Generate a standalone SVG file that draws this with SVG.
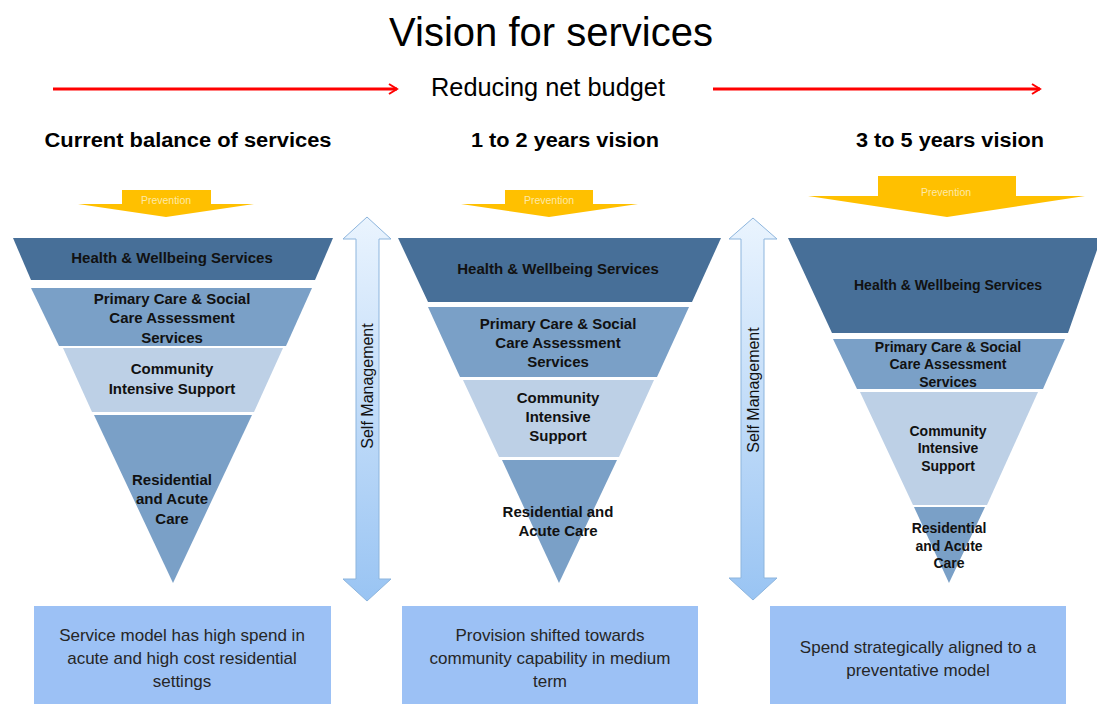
<svg xmlns="http://www.w3.org/2000/svg" width="1097" height="704" viewBox="0 0 1097 704">
  <defs>
    <linearGradient id="selfGrad" x1="0" y1="0" x2="0" y2="1">
      <stop offset="0" stop-color="#eaf4fe"/>
      <stop offset="1" stop-color="#99c4f3"/>
    </linearGradient>
    <marker id="redHead" markerWidth="12" markerHeight="12" refX="10" refY="6" orient="auto" markerUnits="userSpaceOnUse">
      <polyline points="2,1 10,6 2,11" fill="none" stroke="#ff0000" stroke-width="2"/>
    </marker>
  </defs>
  <style>
    .title { font-family: "Liberation Sans", Arial, sans-serif; font-size: 40px; fill: #000; text-anchor: middle; }
    .budget { font-family: "Liberation Sans", Arial, sans-serif; font-size: 25px; fill: #000; text-anchor: middle; }
    .head { font-family: "Liberation Sans", Arial, sans-serif; font-size: 20px; font-weight: bold; fill: #000; text-anchor: middle; }
    .prev { fill: #ffc000; }
    .prevTxt { font-family: "Liberation Sans", Arial, sans-serif; font-size: 10.5px; fill: #fde9a8; text-anchor: middle; }
    .b1 { fill: #476f98; }
    .b2 { fill: #7aa0c7; }
    .b3 { fill: #bdd0e6; }
    .lbl { font-family: "Liberation Sans", Arial, sans-serif; font-size: 15px; font-weight: bold; fill: #111; text-anchor: middle; }
    .lbl3 { font-family: "Liberation Sans", Arial, sans-serif; font-size: 14px; font-weight: bold; fill: #111; text-anchor: middle; }
    .self { fill: url(#selfGrad); stroke: #8db5dd; stroke-width: 1; }
    .selfTxt { font-family: "Liberation Sans", Arial, sans-serif; font-size: 16px; fill: #111; text-anchor: middle; }
    .box { fill: #9cc1f5; }
    .boxTxt { font-family: "Liberation Sans", Arial, sans-serif; font-size: 17px; fill: #262626; text-anchor: middle; }
    .red { stroke: #ff0000; stroke-width: 3; fill: none; }
  </style>

  <rect width="1097" height="704" fill="#ffffff"/>

  <g id="title">
    <text class="title" x="551" y="46">Vision for services</text>
  </g>

  <g id="budget-label">
    <text class="budget" x="548" y="96" textLength="234" lengthAdjust="spacingAndGlyphs">Reducing net budget</text>
  </g>

  <g id="connectors">
    <line class="red" x1="53" y1="89" x2="397" y2="89" marker-end="url(#redHead)"/>
    <line class="red" x1="713" y1="89" x2="1040" y2="89" marker-end="url(#redHead)"/>
  </g>

  <g id="headings">
    <text class="head" x="188" y="147" textLength="287" lengthAdjust="spacingAndGlyphs">Current balance of services</text>
    <text class="head" x="565" y="147" textLength="188" lengthAdjust="spacingAndGlyphs">1 to 2 years vision</text>
    <text class="head" x="950" y="147" textLength="188" lengthAdjust="spacingAndGlyphs">3 to 5 years vision</text>
  </g>

  <!-- Prevention arrows -->
  <g id="prevention-1">
    <polygon class="prev" points="122,190 211,190 211,204 254,204 166,217 78,204 122,204"/>
    <text class="prevTxt" x="166" y="204">Prevention</text>
  </g>
  <g id="prevention-2">
    <polygon class="prev" points="505,190 593,190 593,204 638,204 549,217 461,204 505,204"/>
    <text class="prevTxt" x="549" y="204">Prevention</text>
  </g>
  <g id="prevention-3">
    <polygon class="prev" points="878,176 1016,176 1016,196 1085,196 947,217 808,196 878,196"/>
    <text class="prevTxt" x="946" y="196">Prevention</text>
  </g>

  <!-- Current balance pyramid -->
  <g id="current-health">
    <polygon class="b1" points="13,238 333,238 315,280 31,280"/>
    <text class="lbl" x="172" y="263">Health &amp; Wellbeing Services</text>
  </g>
  <g id="current-primary">
    <polygon class="b2" points="31,288 312,288 286,346 59,346"/>
    <text class="lbl" x="172" y="304">Primary Care &amp; Social</text>
    <text class="lbl" x="172" y="323">Care Assessment</text>
    <text class="lbl" x="172" y="343">Services</text>
  </g>
  <g id="current-community">
    <polygon class="b3" points="63,348 283,348 254,412 92,412"/>
    <text class="lbl" x="172" y="374">Community</text>
    <text class="lbl" x="172" y="394">Intensive Support</text>
  </g>
  <g id="current-residential">
    <polygon class="b2" points="94,415 252,415 173,583"/>
    <text class="lbl" x="172" y="485">Residential</text>
    <text class="lbl" x="172" y="504">and Acute</text>
    <text class="lbl" x="172" y="524">Care</text>
  </g>

  <!-- 1 to 2 years pyramid -->
  <g id="year2-health">
    <polygon class="b1" points="398,238 721,238 692,302 428,302"/>
    <text class="lbl" x="558" y="274">Health &amp; Wellbeing Services</text>
  </g>
  <g id="year2-primary">
    <polygon class="b2" points="428,307 689,307 657,377 460,377"/>
    <text class="lbl" x="558" y="329">Primary Care &amp; Social</text>
    <text class="lbl" x="558" y="348">Care Assessment</text>
    <text class="lbl" x="558" y="367">Services</text>
  </g>
  <g id="year2-community">
    <polygon class="b3" points="463,380 654,380 619,457 499,457"/>
    <text class="lbl" x="558" y="403">Community</text>
    <text class="lbl" x="558" y="422">Intensive</text>
    <text class="lbl" x="558" y="441">Support</text>
  </g>
  <g id="year2-residential">
    <polygon class="b2" points="502,460 617,460 559,583"/>
    <text class="lbl" x="558" y="517">Residential and</text>
    <text class="lbl" x="558" y="536">Acute Care</text>
  </g>

  <!-- 3 to 5 years pyramid -->
  <g id="year5-health">
    <polygon class="b1" points="788,238 1097,238 1097,250 1068,333 832,333"/>
    <text class="lbl3" x="948" y="290">Health &amp; Wellbeing Services</text>
  </g>
  <g id="year5-primary">
    <polygon class="b2" points="833,339 1065,339 1043,389 857,389"/>
    <text class="lbl3" x="948" y="352">Primary Care &amp; Social</text>
    <text class="lbl3" x="948" y="369">Care Assessment</text>
    <text class="lbl3" x="948" y="387">Services</text>
  </g>
  <g id="year5-community">
    <polygon class="b3" points="860,392 1038,392 987,505 913,505"/>
    <text class="lbl3" x="948" y="436">Community</text>
    <text class="lbl3" x="948" y="453">Intensive</text>
    <text class="lbl3" x="948" y="471">Support</text>
  </g>
  <g id="year5-residential">
    <polygon class="b2" points="914,507 985,507 949,583"/>
    <text class="lbl3" x="949" y="533">Residential</text>
    <text class="lbl3" x="949" y="551">and Acute</text>
    <text class="lbl3" x="949" y="568">Care</text>
  </g>

  <!-- Self management double arrows -->
  <g id="self-management-1">
    <polygon class="self" points="367,217 391,239 379,239 379,579 391,579 367,601 343,579 356,579 356,239 343,239"/>
    <text class="selfTxt" transform="translate(373,386) rotate(-90)">Self Management</text>
  </g>
  <g id="self-management-2">
    <polygon class="self" points="753,218 777,239 764,239 764,578 777,578 753,600 729,578 741,578 741,239 729,239"/>
    <text class="selfTxt" transform="translate(759,390) rotate(-90)">Self Management</text>
  </g>

  <!-- Summary boxes -->
  <g id="summary-current">
    <rect class="box" x="34" y="606" width="297" height="98"/>
    <text class="boxTxt" x="182" y="641">Service model has high spend in</text>
    <text class="boxTxt" x="182" y="664">acute and high cost residential</text>
    <text class="boxTxt" x="182" y="687">settings</text>
  </g>
  <g id="summary-year2">
    <rect class="box" x="402" y="606" width="296" height="98"/>
    <text class="boxTxt" x="550" y="641">Provision shifted towards</text>
    <text class="boxTxt" x="550" y="664">community capability in medium</text>
    <text class="boxTxt" x="550" y="687">term</text>
  </g>
  <g id="summary-year5">
    <rect class="box" x="770" y="606" width="296" height="98"/>
    <text class="boxTxt" x="918" y="653">Spend strategically aligned to a</text>
    <text class="boxTxt" x="918" y="676">preventative model</text>
  </g>
</svg>
